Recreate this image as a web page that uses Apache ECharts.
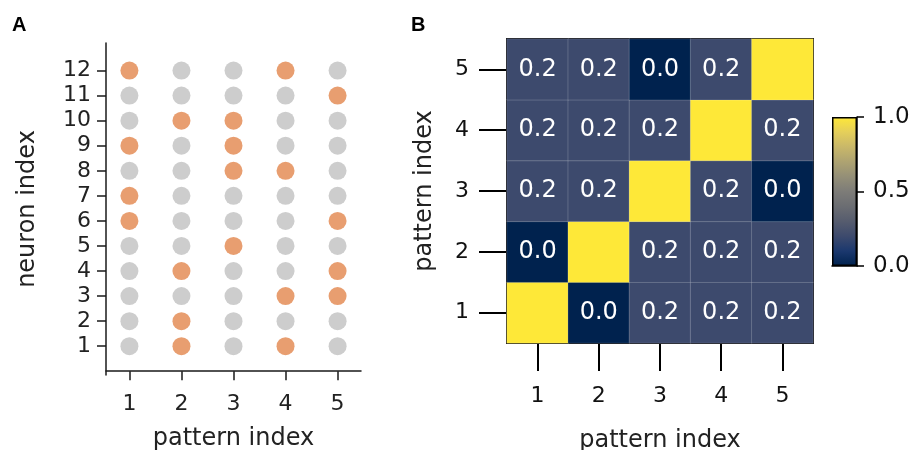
<!DOCTYPE html>
<html><head><meta charset="utf-8">
<script src="https://cdn.jsdelivr.net/npm/echarts@6/dist/echarts.min.js"></script>
<style>html,body{margin:0;padding:0;background:#fff}#c{width:914px;height:450px}</style>
</head><body><div id="c"></div>
<script>
// Panel A data
const patterns = [1, 2, 3, 4, 5];
const neurons = [1, 2, 3, 4, 5, 6, 7, 8, 9, 10, 11, 12];
const activeP1 = [12, 9, 7, 6];
const activeP2 = [10, 4, 2, 1];
const activeP3 = [10, 9, 8, 5];
const activeP4 = [12, 8, 3, 1];
const activeP5 = [11, 6, 4, 3];
// Panel B data (rows = pattern index on y, 1..5; columns = pattern index on x, 1..5)
const simRow1 = [1.0, 0.0, 0.2, 0.2, 0.2];
const simRow2 = [0.0, 1.0, 0.2, 0.2, 0.2];
const simRow3 = [0.2, 0.2, 1.0, 0.2, 0.0];
const simRow4 = [0.2, 0.2, 0.2, 1.0, 0.2];
const simRow5 = [0.2, 0.2, 0.0, 0.2, 1.0];
const colorbarTicks = [0, 0.5, 1];

const active = [activeP1, activeP2, activeP3, activeP4, activeP5];
const onPts = [], offPts = [];
patterns.forEach((p, i) => {
  neurons.forEach(n => {
    (active[i].includes(n) ? onPts : offPts).push([p, n]);
  });
});
const rows = [simRow1, simRow2, simRow3, simRow4, simRow5];
const heat = [];
rows.forEach((r, yi) => r.forEach((v, xi) => heat.push([xi, yi, v])));

// cividis-like colormap, stops at 0, 0.1, ..., 1.0
const cividis = ['#00224E', '#1B386E', '#3D4A6D', '#565C6E', '#6B6D72', '#7D7C78', '#948F77', '#AEA371', '#C9B869', '#E5CF5A', '#FEE838'];
const F = 'DejaVu Sans';
const axCol = '#1a1a1a';

const chart = echarts.init(document.getElementById('c'), null, {renderer: 'canvas'});
chart.setOption({
  backgroundColor: '#fff',
  animation: false,
  textStyle: {fontFamily: F},
  title: [
    {text: 'A', left: 7, top: 10, textStyle: {fontFamily: 'Liberation Sans', fontWeight: 'bold', fontSize: 20, color: '#000'}},
    {text: 'B', left: 406, top: 10, textStyle: {fontFamily: 'Liberation Sans', fontWeight: 'bold', fontSize: 20, color: '#000'}}
  ],
  grid: [
    {left: 106, top: 43, width: 255, height: 332, outerBoundsMode: 'none', containLabel: false},
    {left: 507, top: 39, width: 306, height: 304, outerBoundsMode: 'none', containLabel: false},
    {left: 832, top: 117, width: 25, height: 149, outerBoundsMode: 'none', containLabel: false}
  ],
  xAxis: [
    {gridIndex: 0, type: 'value', min: 0.55, max: 5.45,
     name: 'pattern index', nameLocation: 'middle', nameGap: 52,
     nameTextStyle: {fontFamily: F, fontSize: 24, color: '#222'},
     axisLine: {show: true, lineStyle: {color: axCol, width: 1.5}},
     axisTick: {show: true, length: 9, lineStyle: {color: axCol, width: 1.5}, customValues: patterns},
     axisLabel: {fontFamily: F, fontSize: 22, color: '#222', margin: 18, customValues: patterns},
     splitLine: {show: false}},
    {gridIndex: 1, type: 'category', data: patterns.map(String), position: 'bottom',
     name: 'pattern index', nameLocation: 'middle', nameGap: 86,
     nameTextStyle: {fontFamily: F, fontSize: 24, color: '#222'},
     axisLine: {show: true, lineStyle: {color: '#000', width: 2}},
     axisTick: {show: true, alignWithLabel: true, length: 28, lineStyle: {color: '#000', width: 2}},
     axisLabel: {fontFamily: F, fontSize: 22, color: '#111', margin: 42},
     splitLine: {show: false}},
    {gridIndex: 1, type: 'category', data: patterns.map(String), position: 'top',
     axisLine: {show: true, lineStyle: {color: '#000', width: 2}},
     axisTick: {show: false}, axisLabel: {show: false}, splitLine: {show: false}},
    {gridIndex: 2, type: 'category', data: [''], show: true,
     axisLine: {show: true, lineStyle: {color: '#000', width: 1.5}},
     axisTick: {show: false}, axisLabel: {show: false}}
  ],
  yAxis: [
    {gridIndex: 0, type: 'value', min: -0.15, max: 13.1,
     name: 'neuron index', nameLocation: 'middle', nameGap: 66, nameRotate: 90,
     nameTextStyle: {fontFamily: F, fontSize: 24, color: '#222'},
     axisLine: {show: true, lineStyle: {color: axCol, width: 1.5}},
     axisTick: {show: true, length: 9, lineStyle: {color: axCol, width: 1.5}, customValues: neurons},
     axisLabel: {fontFamily: F, fontSize: 22, color: '#222', margin: 15, customValues: neurons},
     splitLine: {show: false}},
    {gridIndex: 1, type: 'category', data: patterns.map(String), position: 'left',
     name: 'pattern index', nameLocation: 'middle', nameGap: 70, nameRotate: 90,
     nameTextStyle: {fontFamily: F, fontSize: 24, color: '#222'},
     axisLine: {show: true, lineStyle: {color: '#000', width: 2}},
     axisTick: {show: true, alignWithLabel: true, length: 28, lineStyle: {color: '#000', width: 2}},
     axisLabel: {fontFamily: F, fontSize: 22, color: '#111', margin: 38},
     splitLine: {show: false}},
    {gridIndex: 1, type: 'category', data: patterns.map(String), position: 'right',
     axisLine: {show: true, lineStyle: {color: '#000', width: 2}},
     axisTick: {show: false}, axisLabel: {show: false}, splitLine: {show: false}},
    {gridIndex: 2, type: 'value', min: 0, max: 1, position: 'right',
     axisLine: {show: true, lineStyle: {color: '#000', width: 1.5}},
     axisTick: {show: true, length: 7, lineStyle: {color: '#000', width: 1.5}, customValues: colorbarTicks},
     axisLabel: {fontFamily: F, fontSize: 23, color: '#111', margin: 16, formatter: v => v.toFixed(1), customValues: colorbarTicks},
     splitLine: {show: false}}
  ],
  visualMap: {
    type: 'continuous', show: false, min: 0, max: 1, seriesIndex: 2, dimension: 2,
    inRange: {color: cividis}
  },
  series: [
    {type: 'scatter', xAxisIndex: 0, yAxisIndex: 0, data: offPts, symbolSize: 18,
     itemStyle: {color: '#CDCDCD', opacity: 1}, silent: true},
    {type: 'scatter', xAxisIndex: 0, yAxisIndex: 0, data: onPts, symbolSize: 18,
     itemStyle: {color: '#E89E70', opacity: 1}, silent: true},
    {type: 'heatmap', xAxisIndex: 1, yAxisIndex: 1, data: heat,
     itemStyle: {borderColor: 'rgba(255,255,255,0.18)', borderWidth: 1},
     label: {show: true, color: '#fff', fontFamily: F, fontSize: 24,
       formatter: p => p.value[2] >= 0.999 ? '' : p.value[2].toFixed(1)}},
    {type: 'bar', xAxisIndex: 3, yAxisIndex: 3, data: [1], barWidth: '100%', silent: true,
     itemStyle: {borderColor: '#000', borderWidth: 1.5,
       color: new echarts.graphic.LinearGradient(0, 0, 0, 1,
         cividis.slice().reverse().map((c, i, a) => ({offset: i / (a.length - 1), color: c})))}}
  ]
});
</script></body></html>
